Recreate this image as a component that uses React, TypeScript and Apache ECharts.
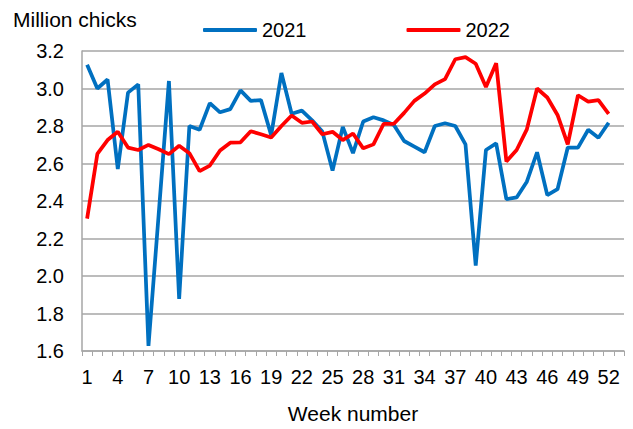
import React, { useEffect, useRef } from "react";
import * as echarts from "echarts";

const weeks: string[] = Array.from({ length: 53 }, (_, i) => String(i + 1));

const series2021: (number | null)[] = [
  3.127, 3.0, 3.048, 2.571, 2.978, 3.022, 1.627, 2.33, 3.04, 1.878,
  2.8, 2.78, 2.922, 2.873, 2.89, 2.99, 2.934, 2.938, 2.751, 3.083,
  2.865, 2.882, 2.83, 2.77, 2.562, 2.795, 2.655, 2.824, 2.847, 2.83,
  2.805, 2.72, 2.69, 2.66, 2.8, 2.815, 2.8, 2.702, 2.056, 2.672,
  2.707, 2.41, 2.419, 2.503, 2.66, 2.431, 2.463, 2.685, 2.685, 2.78,
  2.737, 2.817, null,
];

const series2022: (number | null)[] = [
  2.306, 2.651, 2.725, 2.769, 2.685, 2.672, 2.699, 2.676, 2.65, 2.695,
  2.655, 2.559, 2.589, 2.669, 2.711, 2.713, 2.772, 2.756, 2.739, 2.8,
  2.856, 2.817, 2.824, 2.756, 2.769, 2.725, 2.76, 2.681, 2.702, 2.812,
  2.812, 2.87, 2.934, 2.973, 3.022, 3.05, 3.156, 3.167, 3.132, 3.008,
  3.135, 2.611, 2.672, 2.782, 3.0, 2.952, 2.859, 2.702, 2.964, 2.93,
  2.938, 2.865, null,
];

const FONT = "Arial, 'Liberation Sans', sans-serif";
const GRAY = "#a6a6a6";

export default function App() {
  const ref = useRef<HTMLDivElement>(null);
  useEffect(() => {
    if (!ref.current) return;
    const chart = echarts.init(ref.current, undefined, { renderer: "svg" });
    chart.setOption({
      animation: false,
      title: {
        text: "Million chicks",
        left: 13,
        top: 9,
        padding: 0,
        textStyle: { fontFamily: FONT, fontSize: 21, fontWeight: "normal", color: "#000" },
      },
      legend: {
        left: 203,
        top: 20,
        padding: 0,
        itemWidth: 54,
        itemHeight: 4,
        itemGap: 100,
        icon: "roundRect",
        textStyle: { fontFamily: FONT, fontSize: 20, color: "#000" },
        data: ["2021", "2022"],
      },
      grid: { left: 82, right: 9, top: 51, bottom: 73, containLabel: false },
      xAxis: {
        type: "category",
        data: weeks,
        boundaryGap: true,
        name: "Week number",
        nameLocation: "middle",
        nameGap: 52,
        nameTextStyle: { fontFamily: FONT, fontSize: 21, color: "#000", verticalAlign: "top" },
        axisLine: { show: true, lineStyle: { color: GRAY, width: 1.5 } },
        axisTick: { show: true, interval: 0, length: 5, lineStyle: { color: GRAY } },
        axisLabel: {
          interval: 2,
          margin: 16,
          fontFamily: FONT,
          fontSize: 20,
          color: "#000",
        },
        splitLine: { show: false },
      },
      yAxis: {
        type: "value",
        min: 1.6,
        max: 3.2,
        interval: 0.2,
        axisLine: { show: true, lineStyle: { color: GRAY, width: 1.5 } },
        axisTick: { show: false },
        axisLabel: {
          margin: 18,
          fontFamily: FONT,
          fontSize: 20,
          color: "#000",
          formatter: (v: number) => v.toFixed(1),
        },
        splitLine: { show: true, lineStyle: { color: GRAY, width: 1.5 } },
      },
      series: [
        {
          name: "2021",
          type: "line",
          data: series2021,
          symbol: "none",
          lineStyle: { color: "#0070c0", width: 3.75 },
          itemStyle: { color: "#0070c0" },
        },
        {
          name: "2022",
          type: "line",
          data: series2022,
          symbol: "none",
          lineStyle: { color: "#ff0000", width: 3.75 },
          itemStyle: { color: "#ff0000" },
        },
      ],
    });
    return () => chart.dispose();
  }, []);
  return (
    <div
      ref={ref}
      style={{ position: "absolute", left: 0, top: 0, width: 633, height: 429 }}
    />
  );
}
